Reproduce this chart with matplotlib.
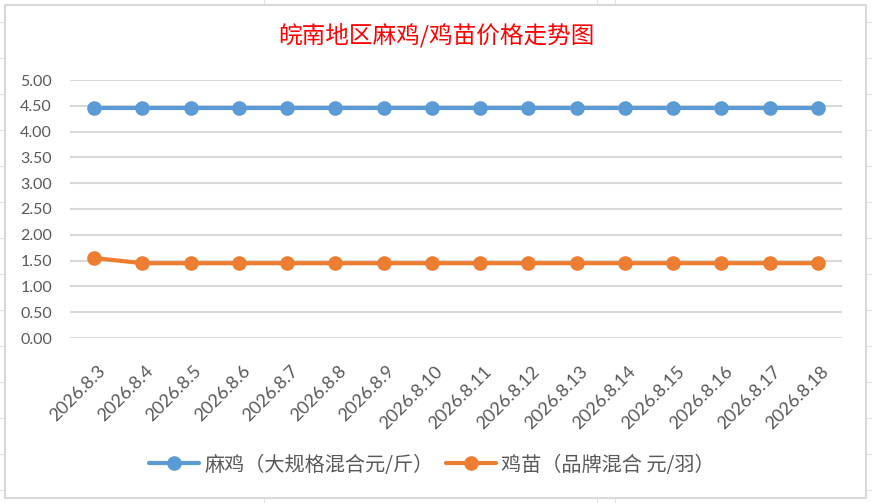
import matplotlib
matplotlib.use("Agg")
import matplotlib.pyplot as plt
from matplotlib.lines import Line2D
from matplotlib.patches import Rectangle
from matplotlib.transforms import ScaledTranslation

plt.rcParams['font.family'] = ['Noto Sans CJK SC', 'DejaVu Sans']

dates = ["2026.8.3", "2026.8.4", "2026.8.5", "2026.8.6", "2026.8.7", "2026.8.8",
         "2026.8.9", "2026.8.10", "2026.8.11", "2026.8.12", "2026.8.13", "2026.8.14",
         "2026.8.15", "2026.8.16", "2026.8.17", "2026.8.18"]
ma_ji = [4.45] * 16
ji_miao = [1.55] + [1.45] * 15
yticks = [0.0, 0.5, 1.0, 1.5, 2.0, 2.5, 3.0, 3.5, 4.0, 4.5, 5.0]
title = "皖南地区麻鸡/鸡苗价格走势图"
label_ma = "麻鸡（大规格混合元/斤）"
label_miao = "鸡苗（品牌混合 元/羽）"

W, H = 872, 503
fig = plt.figure(figsize=(W / 100, H / 100), dpi=100)
fig.patch.set_facecolor("white")

def fx(px):
    return px / W

def fy(py):
    return 1 - py / H

# spreadsheet grid outside chart
grid_c = "#E1E1E1"
for yy in range(22, 503, 36):
    fig.add_artist(Line2D([0, 1], [fy(yy), fy(yy)], color=grid_c, lw=0.8, zorder=0))
for xx in [264, 597, 615]:
    fig.add_artist(Line2D([fx(xx), fx(xx)], [0, 1], color=grid_c, lw=0.8, zorder=0))
# chart box
fig.add_artist(Rectangle((fx(5), fy(498)), fx(866) - fx(5), fy(5) - fy(498),
                         facecolor="white", edgecolor="#D9D9D9", lw=1.5, zorder=1))

ax = fig.add_axes([fx(70), fy(338), fx(842) - fx(70), fy(80) - fy(338)], zorder=2)
ax.set_facecolor("none")
x = list(range(len(dates)))
blue = "#5B9BD5"
orange = "#ED7D31"
ax.plot(x, ma_ji, color=blue, lw=3, marker="o", ms=9.5, clip_on=False, zorder=4,
        label=label_ma, solid_capstyle="round")
ax.plot(x, ji_miao, color=orange, lw=3, marker="o", ms=9.5, clip_on=False, zorder=4,
        label=label_miao, solid_capstyle="round")

ax.set_xlim(-0.5, len(dates) - 0.5)
ax.set_ylim(0, 5)
ax.set_yticks(yticks)
ax.set_yticklabels([f"{v:.2f}" for v in yticks], family=["Lato", "DejaVu Sans"],
                   fontsize=11.5, color="#595959")
ax.set_xticks(x)
ax.set_xticklabels(dates, rotation=45, ha="right", va="top", rotation_mode="anchor",
                   family=["Lato", "DejaVu Sans"], fontsize=13, color="#595959")
ax.tick_params(axis="both", length=0)
ax.tick_params(axis="y", pad=13)
ax.tick_params(axis="x", pad=18)
off = ScaledTranslation(3 / 100, 0, fig.dpi_scale_trans)
for lab in ax.get_xticklabels():
    lab.set_transform(lab.get_transform() + off)
ax.grid(axis="y", color="#D9D9D9", lw=1.5)
ax.set_axisbelow(True)
for s in ax.spines.values():
    s.set_visible(False)

fig.text(fx(436), fy(35), title, color="#FF0000", fontsize=17, ha="center", va="center",
         zorder=3)

leg = fig.legend(loc="center", bbox_to_anchor=(fx(432), fy(465)), ncol=2, frameon=False,
                 fontsize=14.5, handlelength=2.5, columnspacing=0.6, handletextpad=0.25,
                 labelcolor="#595959")
leg.set_zorder(3)

fig.savefig("out.png", dpi=100, facecolor="white")
